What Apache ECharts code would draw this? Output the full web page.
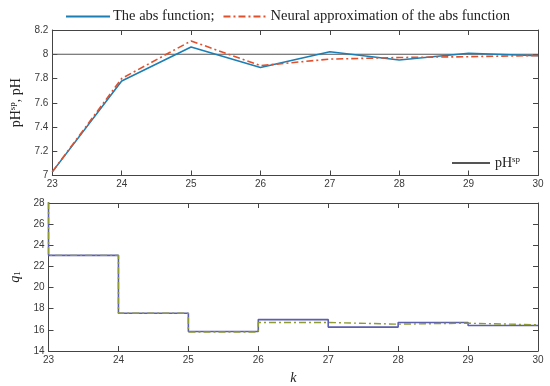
<!DOCTYPE html>
<html><head><meta charset="utf-8">
<script src="https://cdn.jsdelivr.net/npm/echarts@6/dist/echarts.min.js"></script>
<style>html,body{margin:0;padding:0;background:#fff}#c{width:550px;height:386px}</style>
</head><body><div id="c"></div>
<script>
const kTop = [23, 24, 25, 26, 27, 28, 29, 30];
const phAbs = [7.03, 7.78, 8.06, 7.89, 8.02, 7.953, 8.008, 7.988];
const phNeural = [7.03, 7.80, 8.11, 7.906, 7.96, 7.973, 7.98, 7.99];
const phSetpointK = [23, 30];
const phSetpoint = [8, 8];
// stairs (value held until next k); first point precedes the visible range
const kStairs = [22, 23, 24, 25, 26, 27, 28, 29, 30];
const q1Abs = [30, 23.05, 17.57, 15.85, 16.97, 16.26, 16.69, 16.41, 16.41];
const q1Neural = [30, 23.05, 17.57, 15.8, 16.7, 16.54, 16.63, 16.48, 16.48];
const topYTicks = [7, 8.2, 0.2];
const botYTicks = [14, 28, 2];

const zip = (xs, ys) => xs.map((x, i) => [x, ys[i]]);
const blue = '#1b7fb5', red = '#e2502b', slate = '#5c5fae', olive = '#8d9a35';
const tickFont = {fontFamily: 'Liberation Sans, Arial, sans-serif', fontSize: 10, color: '#3a3a3a'};
const axisLine = {show: true, lineStyle: {color: '#444', width: 1}};
const gridL = 38, gridW = 500;

function xAx(gi, showLabels, pos, name) {
  return {
    type: 'value', gridIndex: gi, min: 23, max: 30, interval: 1, position: pos,
    axisLine: axisLine, axisTick: {show: true, inside: true, length: 5, lineStyle: {color: '#444'}},
    axisLabel: showLabels ? Object.assign({margin: 4}, tickFont) : {show: false},
    splitLine: {show: false},
    name: name || '', nameLocation: 'middle', nameGap: 20,
    nameTextStyle: {fontFamily: 'Liberation Serif, serif', fontStyle: 'italic', fontSize: 14, color: '#222'}
  };
}
function yAx(gi, t, showLabels, pos, name) {
  return {
    type: 'value', gridIndex: gi, min: t[0], max: t[1], interval: t[2], position: pos,
    axisLine: axisLine, axisTick: {show: true, inside: true, length: 5, lineStyle: {color: '#444'}},
    axisLabel: showLabels ? Object.assign({margin: 4}, tickFont) : {show: false},
    splitLine: {show: false},
    name: name || '', nameLocation: 'middle', nameGap: 20,
    nameTextStyle: {
      fontFamily: 'Liberation Serif, serif', fontSize: 14, color: '#222',
      rich: {
        n: {fontFamily: 'Liberation Serif, serif', fontSize: 14, color: '#222'},
        s: {fontFamily: 'Liberation Serif, serif', fontSize: 9, color: '#222', verticalAlign: 'top', padding: [0, 0, 8, 0]},
        i: {fontFamily: 'Liberation Serif, serif', fontStyle: 'italic', fontSize: 14, color: '#222'},
        b: {fontFamily: 'Liberation Serif, serif', fontSize: 9, color: '#222', padding: [6, 0, 0, 0]}
      }
    }
  };
}
const dashDot = [7, 3, 2, 3];
const chart = echarts.init(document.getElementById('c'), null, {renderer: 'canvas'});
chart.setOption({
  animation: false,
  grid: [
    {left: gridL, width: gridW, top: 30, height: 145.5},
    {left: gridL, width: gridW, top: 203, height: 150}
  ],
  xAxis: [
    xAx(0, true, 'bottom'), xAx(0, false, 'top'),
    xAx(1, true, 'bottom', 'k'), xAx(1, false, 'top')
  ],
  yAxis: [
    yAx(0, topYTicks, true, 'left', '{n|pH}{s|sp}{n|, pH}'), yAx(0, topYTicks, false, 'right'),
    yAx(1, botYTicks, true, 'left', '{i|q}{b|1}'), yAx(1, botYTicks, false, 'right')
  ],
  legend: [
    {
      data: ['The abs function;', 'Neural approximation of the abs function'],
      left: 60, top: 4, itemWidth: 44, itemHeight: 10, itemGap: 8,
      itemStyle: {opacity: 0},
      textStyle: {fontFamily: 'Liberation Serif, serif', fontSize: 14.5, color: '#222', padding: [0, 0, 0, -2]}
    },
    {
      data: ['pHsp'], left: 446, top: 150, itemWidth: 38, itemHeight: 10, itemGap: 4,
      itemStyle: {opacity: 0},
      formatter: () => '{n|pH}{s|sp}',
      textStyle: {
        fontFamily: 'Liberation Serif, serif', fontSize: 14, color: '#222',
        rich: {
          n: {fontFamily: 'Liberation Serif, serif', fontSize: 14, color: '#222'},
          s: {fontFamily: 'Liberation Serif, serif', fontSize: 9, color: '#222', verticalAlign: 'top', padding: [0, 0, 7, 0]}
        }
      }
    }
  ],
  series: [
    {name: 'pHsp', type: 'line', xAxisIndex: 0, yAxisIndex: 0, data: zip(phSetpointK, phSetpoint),
      symbol: 'none', lineStyle: {color: '#555', width: 1.2}, itemStyle: {color: '#555'}},
    {name: 'The abs function;', type: 'line', xAxisIndex: 0, yAxisIndex: 0, data: zip(kTop, phAbs),
      symbol: 'none', lineStyle: {color: blue, width: 1.6}, itemStyle: {color: blue}},
    {name: 'Neural approximation of the abs function', type: 'line', xAxisIndex: 0, yAxisIndex: 0,
      data: zip(kTop, phNeural), symbol: 'none',
      lineStyle: {color: red, width: 1.6, type: dashDot}, itemStyle: {color: red}},
    {name: 'q1abs', type: 'line', xAxisIndex: 2, yAxisIndex: 2, data: zip(kStairs, q1Abs), step: 'end',
      symbol: 'none', clip: true, lineStyle: {color: slate, width: 1.6}},
    {name: 'q1neural', type: 'line', xAxisIndex: 2, yAxisIndex: 2, data: zip(kStairs, q1Neural), step: 'end',
      symbol: 'none', clip: true, lineStyle: {color: olive, width: 1.4, type: dashDot}}
  ]
});
</script></body></html>
